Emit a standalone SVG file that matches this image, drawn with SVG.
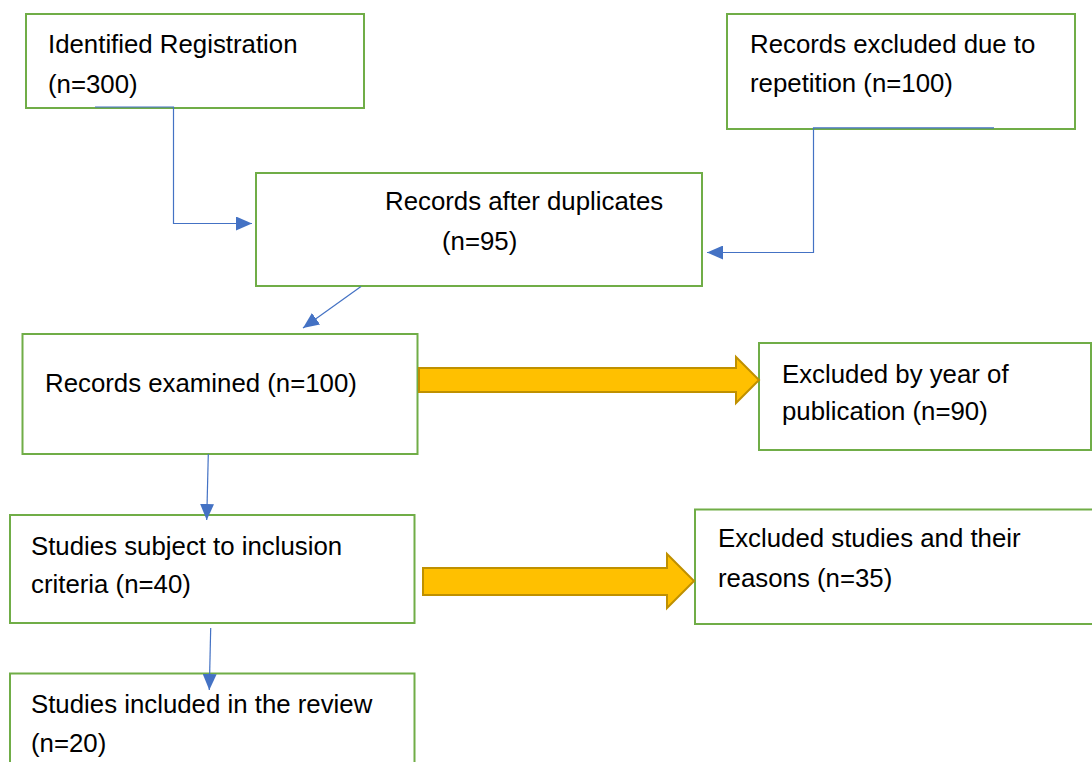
<svg xmlns="http://www.w3.org/2000/svg" width="1092" height="762" viewBox="0 0 1092 762">
<style>
.box{fill:#ffffff;stroke:#70AD47;stroke-width:2}
.t{font-family:"Liberation Sans",Arial,sans-serif;font-size:25.8px;fill:#000000}
.con{fill:none;stroke:#4472C4;stroke-width:1.2}
.blk{fill:#FFC000;stroke:#BF9000;stroke-width:2;stroke-linejoin:miter}
</style>
<defs>
<marker id="ah" markerUnits="userSpaceOnUse" markerWidth="16" markerHeight="14" viewBox="0 0 16 14" refX="16" refY="7" orient="auto">
<path d="M0,0 L16,7 L0,14 z" fill="#4472C4"/>
</marker>
</defs>
<rect width="1092" height="762" fill="#ffffff"/>
<g id="n1"><rect class="box" x="26" y="14" width="338" height="94"/><text class="t" x="48" y="53">Identified Registration</text><text class="t" x="48" y="93">(n=300)</text></g>
<g id="n2"><rect class="box" x="727" y="14" width="348" height="115"/><text class="t" x="750" y="53">Records excluded due to</text><text class="t" x="750" y="92">repetition (n=100)</text></g>
<g id="n3"><rect class="box" x="256" y="173" width="446" height="113"/><text class="t" x="385" y="210">Records after duplicates</text><text class="t" x="442" y="250">(n=95)</text></g>
<g id="n4"><rect class="box" x="22.5" y="334" width="395" height="120"/><text class="t" x="45" y="392">Records examined (n=100)</text></g>
<g id="n5"><rect class="box" x="759" y="343" width="332" height="107"/><text class="t" x="782" y="383">Excluded by year of</text><text class="t" x="782" y="420">publication (n=90)</text></g>
<g id="n6"><rect class="box" x="10" y="515" width="404.5" height="108"/><text class="t" x="31" y="555">Studies subject to inclusion</text><text class="t" x="31" y="593">criteria (n=40)</text></g>
<g id="n7"><rect class="box" x="695" y="509.5" width="402" height="114.5"/><text class="t" x="718" y="547">Excluded studies and their</text><text class="t" x="718" y="587">reasons (n=35)</text></g>
<g id="n8"><rect class="box" x="10" y="673.5" width="404.5" height="100"/><text class="t" x="31" y="713">Studies included in the review</text><text class="t" x="31" y="752">(n=20)</text></g>
<g id="connectors">
<path class="con" d="M95,107 H173.5 V223.5 H252" marker-end="url(#ah)"/>
<path class="con" d="M994,127.8 H813.5 V252.5 H707" marker-end="url(#ah)"/>
<path class="con" d="M361,286.5 L303,328" marker-end="url(#ah)"/>
<path class="con" d="M208.3,454 L206.7,520" marker-end="url(#ah)"/>
<path class="con" d="M210.7,628 L209.3,690" marker-end="url(#ah)"/>
<polygon class="blk" points="419,368 736,368 736,357 759,380 736,403 736,392 419,392"/>
<polygon class="blk" points="423,568 667,568 667,554 694,581 667,608 667,595 423,595"/>
</g>
</svg>
